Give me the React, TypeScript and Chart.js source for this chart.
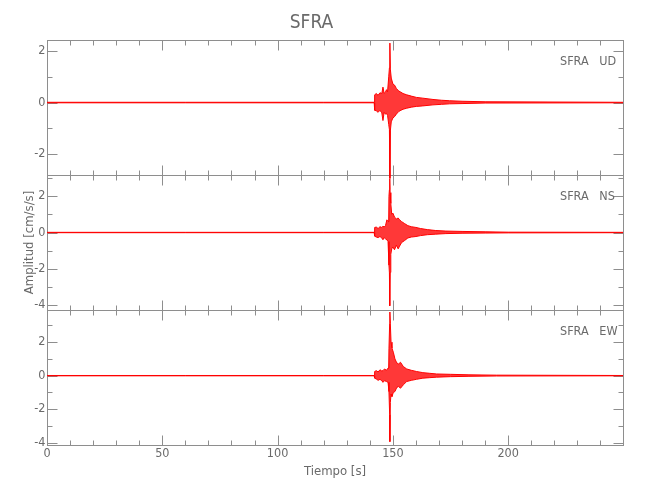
import { useEffect, useRef } from 'react';
import { Chart, registerables } from 'chart.js';

Chart.register(...registerables);

// ---------- data ----------
const STATION = 'SFRA';
const COMPONENTS = ['UD', 'NS', 'EW'];
const X_TITLE = 'Tiempo [s]';
const Y_TITLE = 'Amplitud [cm/s/s]';
const TIME_MIN = 0;
const TIME_MAX = 249.8;
const X_TICK_LABELS = [0, 50, 100, 150, 200];
const X_MINOR_STEP = 10;
const Y_MINOR_STEP = 1;

// UD component: upper / lower envelope of the trace (cm/s/s)
const udTime = [0, 60, 120, 141.9, 142.1, 142.8, 143.6, 144.4, 145.2, 145.7, 146.2, 146.8, 147.2, 147.7, 148.2, 148.5, 148.7, 148.9, 149.3, 150.0, 150.7, 151.5, 152.5, 153.5, 154.4, 156.0, 158.0, 160.2, 163.0, 167.4, 171.0, 174.6, 180.0, 190.0, 249.8];
const udMax = [0.01, 0.01, 0.01, 0.01, 0.30, 0.35, 0.28, 0.38, 0.35, 0.60, 0.36, 0.40, 0.50, 0.42, 1.00, 1.35, 2.31, 1.30, 0.95, 0.72, 0.68, 0.55, 0.45, 0.40, 0.35, 0.30, 0.25, 0.20, 0.17, 0.12, 0.09, 0.07, 0.05, 0.03, 0.01];
const udMin = [-0.01, -0.01, -0.01, -0.01, -0.30, -0.32, -0.38, -0.30, -0.40, -0.70, -0.38, -0.45, -0.42, -0.50, -0.85, -1.05, -2.95, -1.10, -0.75, -0.60, -0.55, -0.45, -0.35, -0.30, -0.26, -0.22, -0.18, -0.15, -0.13, -0.09, -0.07, -0.05, -0.04, -0.02, -0.01];

// NS component
const nsTime = [0, 60, 120, 141.9, 142.1, 142.8, 143.6, 144.4, 145.2, 145.7, 146.2, 146.8, 147.4, 147.9, 148.3, 148.5, 148.65, 148.8, 149.1, 149.5, 150.0, 150.7, 151.5, 152.3, 152.9, 153.8, 155.0, 156.5, 158.0, 160.0, 162.0, 165.0, 168.6, 173.0, 180.0, 190.0, 200.0, 249.8];
const nsMax = [0.01, 0.01, 0.01, 0.01, 0.28, 0.30, 0.22, 0.32, 0.28, 0.35, 0.30, 0.38, 0.70, 0.60, 2.00, 2.36, 2.95, 2.20, 1.60, 1.00, 1.07, 0.85, 0.75, 0.80, 0.70, 0.60, 0.50, 0.38, 0.32, 0.28, 0.22, 0.16, 0.11, 0.08, 0.06, 0.04, 0.02, 0.01];
const nsMin = [-0.01, -0.01, -0.01, -0.01, -0.20, -0.25, -0.28, -0.22, -0.30, -0.40, -0.28, -0.35, -0.40, -0.50, -1.80, -2.23, -4.04, -2.20, -1.20, -0.90, -0.80, -0.95, -0.70, -0.90, -0.75, -0.55, -0.45, -0.30, -0.25, -0.22, -0.17, -0.12, -0.09, -0.06, -0.04, -0.03, -0.02, -0.01];

// EW component
const ewTime = [0, 60, 120, 141.9, 142.1, 142.8, 143.6, 144.4, 145.2, 145.7, 146.4, 147.2, 147.9, 148.3, 148.6, 148.7, 148.9, 149.2, 149.6, 150.2, 150.9, 151.7, 152.5, 153.3, 154.5, 156.0, 158.0, 160.2, 163.0, 166.0, 169.0, 175.0, 183.0, 195.0, 249.8];
const ewMax = [0.01, 0.01, 0.01, 0.01, 0.25, 0.30, 0.22, 0.35, 0.28, 0.30, 0.40, 0.32, 0.45, 1.60, 3.10, 3.80, 3.10, 2.00, 1.64, 1.40, 1.00, 0.76, 0.70, 0.80, 0.55, 0.40, 0.32, 0.25, 0.18, 0.14, 0.10, 0.08, 0.05, 0.03, 0.01];
const ewMin = [-0.01, -0.01, -0.01, -0.01, -0.15, -0.20, -0.28, -0.22, -0.30, -0.40, -0.30, -0.35, -0.40, -0.95, -2.34, -3.94, -1.60, -1.10, -1.25, -1.00, -0.95, -0.70, -0.65, -0.75, -0.55, -0.35, -0.28, -0.22, -0.15, -0.12, -0.09, -0.06, -0.04, -0.02, -0.01];

// y ranges and labelled ticks for each panel
const udRange = [-2.815, 2.43];
const nsRange = [-4.27, 3.17];
const ewRange = [-4.14, 3.92];
const udTickLabels = [-2, 0, 2];
const nsTickLabels = [-4, -2, 0, 2];
const ewTickLabels = [-4, -2, 0, 2];

// ---------- styles ----------
const RED = '#ff0000';
const RED_FILL = 'rgba(255, 0, 0, 0.78)';
const AXIS_COLOR = '#8e8e8e';
const TEXT_COLOR = '#6a6a6a';
const FONT = '"DejaVu Sans Condensed", "Liberation Sans Narrow", "Liberation Sans", sans-serif';

const PANEL_IDS = ['yUD', 'yNS', 'yEW'];
const PANEL_TICK_LABELS = [udTickLabels, nsTickLabels, ewTickLabels];

const panelFrame = {
  id: 'panelFrame',
  beforeDatasetsDraw(chart: any) {
    const ctx = chart.ctx;
    const xs = chart.scales.x;
    const L = Math.round(xs.left) + 0.5;
    const R = Math.round(xs.right) + 0.5;
    ctx.save();
    ctx.strokeStyle = AXIS_COLOR;
    ctx.lineWidth = 1;
    const seg = (x1: number, y1: number, x2: number, y2: number) => {
      ctx.beginPath();
      ctx.moveTo(x1, y1);
      ctx.lineTo(x2, y2);
      ctx.stroke();
    };
    PANEL_IDS.forEach((id, i) => {
      const ys = chart.scales[id];
      const T = Math.round(ys.top) + 0.5;
      const B = Math.round(ys.bottom) + 0.5;
      ctx.strokeRect(L, T, R - L, B - T);
      for (let t = TIME_MIN; t <= xs.max + 1e-6; t += X_MINOR_STEP) {
        const px = Math.round(xs.getPixelForValue(t)) + 0.5;
        const len = X_TICK_LABELS.includes(t) ? 10 : 5;
        seg(px, T, px, T + len);
        seg(px, B, px, B - len);
      }
      for (let v = Math.ceil(ys.min); v <= Math.floor(ys.max); v += Y_MINOR_STEP) {
        const py = Math.round(ys.getPixelForValue(v)) + 0.5;
        const len = PANEL_TICK_LABELS[i].includes(v) ? 10 : 5;
        seg(L, py, L + len, py);
        seg(R, py, R - len, py);
      }
      ctx.fillStyle = TEXT_COLOR;
      ctx.font = `12.5px ${FONT}`;
      ctx.textAlign = 'left';
      ctx.textBaseline = 'middle';
      ctx.fillText(`${STATION}   ${COMPONENTS[i]}`, xs.right - 63, ys.top + 21.5);
    });
    ctx.restore();
  },
};

function band(time: number[], max: number[], min: number[], axis: string, name: string) {
  const common = {
    yAxisID: axis,
    borderColor: RED,
    backgroundColor: RED_FILL,
    borderWidth: 1,
    pointRadius: 0,
    tension: 0,
    clip: { left: 0, top: 8, right: 0, bottom: 8 },
  };
  return [
    { ...common, label: `${name} max`, data: time.map((t, i) => ({ x: t, y: max[i] })), fill: false },
    { ...common, label: `${name} min`, data: time.map((t, i) => ({ x: t, y: min[i] })), fill: '-1' },
  ];
}

function yScale(range: number[], labels: number[], title?: string) {
  return {
    type: 'linear',
    position: 'left',
    stack: 'panels',
    stackWeight: 1,
    min: range[0],
    max: range[1],
    grid: { display: false, drawTicks: false },
    border: { display: false },
    afterBuildTicks: (s: any) => {
      s.ticks = labels.map((v) => ({ value: v }));
    },
    afterFit: (s: any) => {
      s.width = 47;
    },
    ticks: {
      color: TEXT_COLOR,
      font: { family: FONT, size: 12.5 },
      padding: 1.5,
    },
    title: title
      ? {
          display: true,
          text: title,
          color: TEXT_COLOR,
          font: { family: FONT, size: 13 },
          padding: { top: 22, bottom: 0 },
        }
      : { display: false },
  };
}

export default function App() {
  const ref = useRef<HTMLCanvasElement>(null);
  useEffect(() => {
    if (!ref.current) return;
    const chart = new Chart(ref.current, {
      type: 'line',
      data: {
        datasets: [
          ...band(udTime, udMax, udMin, 'yUD', 'UD'),
          ...band(nsTime, nsMax, nsMin, 'yNS', 'NS'),
          ...band(ewTime, ewMax, ewMin, 'yEW', 'EW'),
        ] as any,
      },
      options: {
        responsive: false,
        animation: false,
        devicePixelRatio: 1,
        layout: { padding: { left: 0, right: 27, top: 0, bottom: 0 } },
        plugins: {
          legend: { display: false },
          tooltip: { enabled: false },
          title: {
            display: true,
            text: STATION,
            color: TEXT_COLOR,
            font: { family: FONT, size: 19, weight: 'normal' },
            padding: { top: 12, bottom: 5.2 },
          },
        },
        scales: {
          x: {
            type: 'linear',
            position: 'bottom',
            min: TIME_MIN,
            max: TIME_MAX,
            grid: { display: false, drawTicks: false },
            border: { display: false },
            afterBuildTicks: (s: any) => {
              s.ticks = X_TICK_LABELS.map((v) => ({ value: v }));
            },
            afterFit: (s: any) => {
              s.height = 55;
            },
            ticks: {
              color: TEXT_COLOR,
              font: { family: FONT, size: 12.5 },
              padding: 1,
              maxRotation: 0,
            },
            title: {
              display: true,
              text: X_TITLE,
              color: TEXT_COLOR,
              font: { family: FONT, size: 13 },
              padding: { top: 0, bottom: 20.5 },
            },
          },
          // stacked scales are laid out bottom-up: EW (bottom), NS, UD (top)
          yEW: yScale(ewRange, ewTickLabels),
          yNS: yScale(nsRange, nsTickLabels, Y_TITLE),
          yUD: yScale(udRange, udTickLabels),
        } as any,
      },
      plugins: [panelFrame],
    });
    return () => chart.destroy();
  }, []);
  return (
    <div style={{ position: 'absolute', left: 0, top: 0, width: 650, height: 500, background: '#fff' }}>
      <canvas ref={ref} width={650} height={500} style={{ display: 'block' }} />
    </div>
  );
}
